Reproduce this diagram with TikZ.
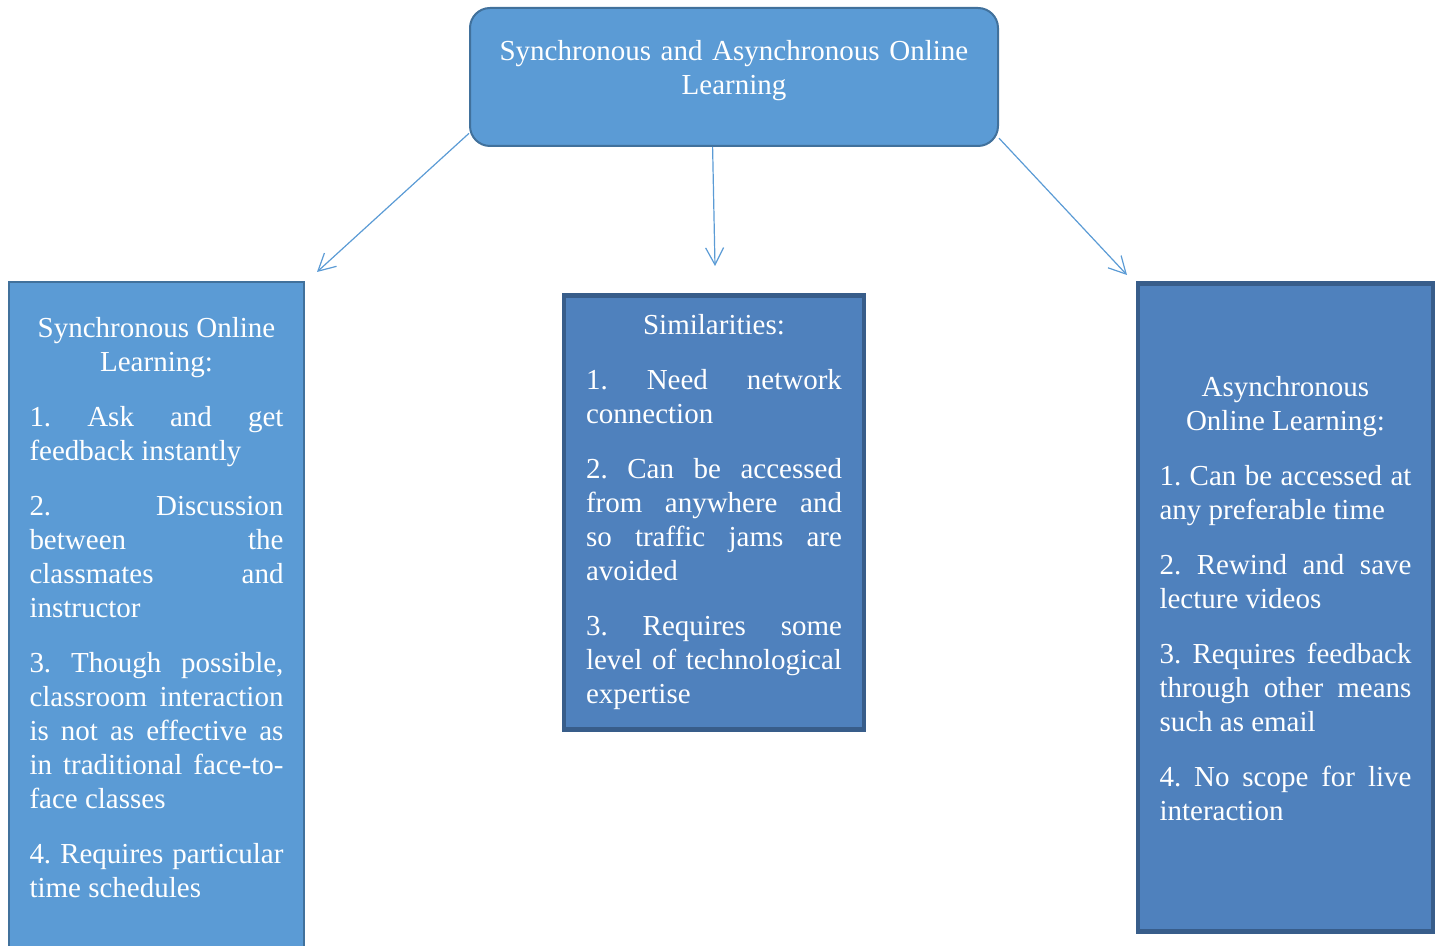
\documentclass[tikz,border=0pt]{standalone}
\usepackage{fontspec}
\setmainfont{Liberation Serif}
\usetikzlibrary{arrows.meta}

\definecolor{lightfill}{HTML}{5B9BD5}
\definecolor{lightline}{HTML}{41719C}
\definecolor{darkfill}{HTML}{4F81BD}
\definecolor{darkline}{HTML}{385D8A}
\newcommand\boxfont{\fontsize{14.5}{17}\selectfont\frenchspacing}

\begin{document}
\begin{tikzpicture}[x=0.5pt, y=-0.5pt]
\tikzset{main/.style={rectangle, rounded corners=10pt, fill=lightfill, draw=lightline, line width=1pt, text=white, font=\boxfont, align=center, text width=250pt, minimum width=264pt, minimum height=69pt},
		lightbox/.style={rectangle, fill=lightfill, draw=lightline, line width=1pt, text=white, font=\boxfont, align=justify, text width=127pt, execute at begin node={\setlength{\parskip}{10.5pt}\hyphenpenalty=10000}},
		darkbox/.style={rectangle, fill=darkfill, draw=darkline, line width=2.25pt, text=white, font=\boxfont, align=justify, text width=128pt, execute at begin node={\setlength{\parskip}{10.5pt}\hyphenpenalty=10000}},
		link/.style={draw=lightfill, line width=0.6pt, -{Straight Barb[length=8.5pt, width=9pt]}}}
\useasboundingbox (0,0) rectangle (1437,946);
\clip (0,0) rectangle (1437,946);
\node[main] (SAOL) at (734,77) {Synchronous and Asynchronous Online\\Learning\par\vspace*{6.5pt}};
\node[lightbox, minimum width=147.5pt, minimum height=350pt] (SOL) at (156.5,632) {{\centering Synchronous Online\\Learning:\par}
1. Ask and get\linebreak feedback instantly\par
2. Discussion\linebreak between the\linebreak classmates and\linebreak instructor\par
3. Though possible,\linebreak classroom interaction\linebreak is not as effective as\linebreak in traditional face-to-\linebreak face classes\par
4. Requires particular\linebreak time schedules\par\vspace*{24pt}};
\node[darkbox, minimum width=150pt, minimum height=217pt] (SIM) at (714,512.5) {{\centering Similarities:\par}
1. Need network\linebreak connection\par
2. Can be accessed\linebreak from anywhere and\linebreak so traffic jams are\linebreak avoided\par
3. Requires some\linebreak level of technological\linebreak expertise\par\vspace*{0pt}};
\node[darkbox, text width=126pt, minimum width=147.5pt, minimum height=324pt] (AOL) at (1285.5,607.5) {{\centering Asynchronous\\Online Learning:\par}
1. Can be accessed at\linebreak any preferable time\par
2. Rewind and save\linebreak lecture videos\par
3. Requires feedback\linebreak through other means\linebreak such as email\par
4. No scope for live\linebreak interaction\par\vspace*{9pt}};
\coordinate (SOLend) at (317,272);
\coordinate (SIMend) at (715,266);
\coordinate (AOLend) at (1127,275);
\draw[link] (SAOL.192) -- (SOLend);
\draw[link] (SAOL.253) -- (SIMend);
\draw[link] (SAOL.347) -- (AOLend);
\end{tikzpicture}
\end{document}
